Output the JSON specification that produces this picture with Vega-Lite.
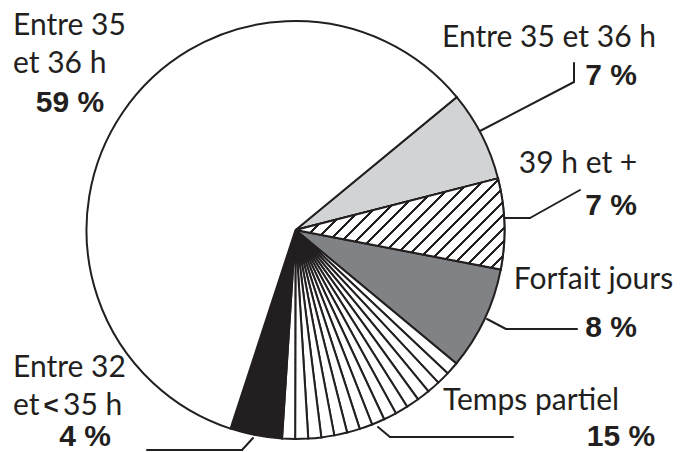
{
  "$schema": "https://vega.github.io/schema/vega-lite/v6.json",
  "width": 687,
  "height": 452,
  "autosize": "none",
  "padding": 0,
  "background": "#ffffff",
  "config": {
    "view": {"stroke": null},
    "text": {"font": "Lato", "fontSize": 30, "fill": "#231f20", "baseline": "alphabetic", "align": "center"},
    "rule": {"stroke": "#231f20", "strokeWidth": 2, "strokeCap": "round"},
    "arc": {"stroke": "#231f20", "strokeWidth": 2, "radius": 209}
  },
  "data": {"values": [
    {"ord": 1, "key": "a7", "name": "Entre 35 et 36 h", "pct": "7 %", "v": 7, "part": 1},
    {"ord": 2, "key": "h39", "name": "39 h et +", "pct": "7 %", "v": 7, "part": 1},
    {"ord": 3, "key": "fj", "name": "Forfait jours", "pct": "8 %", "v": 8, "part": 1},
    {"ord": 4, "key": "tp", "name": "Temps partiel", "pct": "15 %", "v": 1, "part": 1},
    {"ord": 5, "key": "tp", "name": "Temps partiel", "pct": "15 %", "v": 1, "part": 2},
    {"ord": 6, "key": "tp", "name": "Temps partiel", "pct": "15 %", "v": 1, "part": 3},
    {"ord": 7, "key": "tp", "name": "Temps partiel", "pct": "15 %", "v": 1, "part": 4},
    {"ord": 8, "key": "tp", "name": "Temps partiel", "pct": "15 %", "v": 1, "part": 5},
    {"ord": 9, "key": "tp", "name": "Temps partiel", "pct": "15 %", "v": 1, "part": 6},
    {"ord": 10, "key": "tp", "name": "Temps partiel", "pct": "15 %", "v": 1, "part": 7},
    {"ord": 11, "key": "tp", "name": "Temps partiel", "pct": "15 %", "v": 1, "part": 8},
    {"ord": 12, "key": "tp", "name": "Temps partiel", "pct": "15 %", "v": 1, "part": 9},
    {"ord": 13, "key": "tp", "name": "Temps partiel", "pct": "15 %", "v": 1, "part": 10},
    {"ord": 14, "key": "tp", "name": "Temps partiel", "pct": "15 %", "v": 1, "part": 11},
    {"ord": 15, "key": "tp", "name": "Temps partiel", "pct": "15 %", "v": 1, "part": 12},
    {"ord": 16, "key": "tp", "name": "Temps partiel", "pct": "15 %", "v": 1, "part": 13},
    {"ord": 17, "key": "tp", "name": "Temps partiel", "pct": "15 %", "v": 1, "part": 14},
    {"ord": 18, "key": "tp", "name": "Temps partiel", "pct": "15 %", "v": 1, "part": 15},
    {"ord": 19, "key": "e32", "name": "Entre 32|et < 35 h", "pct": "4 %", "v": 4, "part": 1},
    {"ord": 20, "key": "a59", "name": "Entre 35|et 36 h", "pct": "59 %", "v": 59, "part": 1}
  ]},
  "transform": [
    {"stack": "v", "groupby": [], "sort": [{"field": "ord", "order": "ascending"}], "as": ["v0", "v1"]}
  ],
  "layer": [
    {
      "mark": {"type": "arc"},
      "encoding": {
        "x": {"value": 295.5},
        "y": {"value": 230},
        "theta": {"field": "v0", "type": "quantitative", "stack": null, "scale": {"domain": [0, 100], "range": [0.8814, 7.1646]}},
        "theta2": {"field": "v1"},
        "fill": {"field": "key", "type": "nominal", "legend": null,
          "scale": {"domain": ["a7", "h39", "fj", "tp", "e32", "a59"], "range": ["#d1d3d4", "#ffffff", "#808285", "#ffffff", "#231f20", "#ffffff"]}}
      }
    },
    {
      "transform": [{"filter": "datum.key == 'h39'"}],
      "mark": {"type": "arc", "fill": {"gradient": "linear", "x1": 0, "y1": 0, "x2": 1.206, "y2": 0.526, "stops": [
        {"offset": 0, "color": "#231f20"}, {"offset": 0.0095, "color": "#231f20"}, {"offset": 0.0095, "color": "#ffffff"}, {"offset": 0.045, "color": "#ffffff"},
        {"offset": 0.045, "color": "#231f20"}, {"offset": 0.0545, "color": "#231f20"}, {"offset": 0.0545, "color": "#ffffff"}, {"offset": 0.09, "color": "#ffffff"},
        {"offset": 0.09, "color": "#231f20"}, {"offset": 0.0995, "color": "#231f20"}, {"offset": 0.0995, "color": "#ffffff"}, {"offset": 0.135, "color": "#ffffff"},
        {"offset": 0.135, "color": "#231f20"}, {"offset": 0.1445, "color": "#231f20"}, {"offset": 0.1445, "color": "#ffffff"}, {"offset": 0.18, "color": "#ffffff"},
        {"offset": 0.18, "color": "#231f20"}, {"offset": 0.1895, "color": "#231f20"}, {"offset": 0.1895, "color": "#ffffff"}, {"offset": 0.225, "color": "#ffffff"},
        {"offset": 0.225, "color": "#231f20"}, {"offset": 0.2345, "color": "#231f20"}, {"offset": 0.2345, "color": "#ffffff"}, {"offset": 0.27, "color": "#ffffff"},
        {"offset": 0.27, "color": "#231f20"}, {"offset": 0.2795, "color": "#231f20"}, {"offset": 0.2795, "color": "#ffffff"}, {"offset": 0.315, "color": "#ffffff"},
        {"offset": 0.315, "color": "#231f20"}, {"offset": 0.3245, "color": "#231f20"}, {"offset": 0.3245, "color": "#ffffff"}, {"offset": 0.36, "color": "#ffffff"},
        {"offset": 0.36, "color": "#231f20"}, {"offset": 0.3695, "color": "#231f20"}, {"offset": 0.3695, "color": "#ffffff"}, {"offset": 0.405, "color": "#ffffff"},
        {"offset": 0.405, "color": "#231f20"}, {"offset": 0.4145, "color": "#231f20"}, {"offset": 0.4145, "color": "#ffffff"}, {"offset": 0.45, "color": "#ffffff"},
        {"offset": 0.45, "color": "#231f20"}, {"offset": 0.4595, "color": "#231f20"}, {"offset": 0.4595, "color": "#ffffff"}, {"offset": 0.495, "color": "#ffffff"},
        {"offset": 0.495, "color": "#231f20"}, {"offset": 0.5045, "color": "#231f20"}, {"offset": 0.5045, "color": "#ffffff"}, {"offset": 0.54, "color": "#ffffff"},
        {"offset": 0.54, "color": "#231f20"}, {"offset": 0.5495, "color": "#231f20"}, {"offset": 0.5495, "color": "#ffffff"}, {"offset": 0.585, "color": "#ffffff"},
        {"offset": 0.585, "color": "#231f20"}, {"offset": 0.5945, "color": "#231f20"}, {"offset": 0.5945, "color": "#ffffff"}, {"offset": 0.63, "color": "#ffffff"},
        {"offset": 0.63, "color": "#231f20"}, {"offset": 0.6395, "color": "#231f20"}, {"offset": 0.6395, "color": "#ffffff"}, {"offset": 0.675, "color": "#ffffff"},
        {"offset": 0.675, "color": "#231f20"}, {"offset": 0.6845, "color": "#231f20"}, {"offset": 0.6845, "color": "#ffffff"}, {"offset": 0.72, "color": "#ffffff"},
        {"offset": 0.72, "color": "#231f20"}, {"offset": 0.7295, "color": "#231f20"}, {"offset": 0.7295, "color": "#ffffff"}, {"offset": 0.765, "color": "#ffffff"},
        {"offset": 0.765, "color": "#231f20"}, {"offset": 0.7745, "color": "#231f20"}, {"offset": 0.7745, "color": "#ffffff"}, {"offset": 0.81, "color": "#ffffff"},
        {"offset": 0.81, "color": "#231f20"}, {"offset": 0.8195, "color": "#231f20"}, {"offset": 0.8195, "color": "#ffffff"}, {"offset": 0.855, "color": "#ffffff"},
        {"offset": 0.855, "color": "#231f20"}, {"offset": 0.8645, "color": "#231f20"}, {"offset": 0.8645, "color": "#ffffff"}, {"offset": 0.9, "color": "#ffffff"},
        {"offset": 0.9, "color": "#231f20"}, {"offset": 0.9095, "color": "#231f20"}, {"offset": 0.9095, "color": "#ffffff"}, {"offset": 0.945, "color": "#ffffff"},
        {"offset": 0.945, "color": "#231f20"}, {"offset": 0.9545, "color": "#231f20"}, {"offset": 0.9545, "color": "#ffffff"}, {"offset": 0.99, "color": "#ffffff"},
        {"offset": 0.99, "color": "#231f20"}, {"offset": 0.9995, "color": "#231f20"}, {"offset": 0.9995, "color": "#ffffff"}, {"offset": 1, "color": "#ffffff"}
      ]}},
      "encoding": {
        "x": {"value": 295.5},
        "y": {"value": 230},
        "theta": {"field": "v0", "type": "quantitative", "stack": null},
        "theta2": {"field": "v1"}
      }
    },
    {"transform": [{"filter": "datum.key == 'a7'"}], "mark": {"type": "text"},
     "encoding": {"x": {"value": 549}, "y": {"value": 47}, "text": {"field": "name"}}},
    {"transform": [{"filter": "datum.key == 'a7'"}], "mark": {"type": "text", "font": "Liberation Sans", "fontWeight": "bold", "fontSize": 30},
     "encoding": {"x": {"value": 611}, "y": {"value": 85}, "text": {"field": "pct"}}},
    {"transform": [{"filter": "datum.key == 'h39'"}], "mark": {"type": "text"},
     "encoding": {"x": {"value": 578}, "y": {"value": 173}, "text": {"field": "name"}}},
    {"transform": [{"filter": "datum.key == 'h39'"}], "mark": {"type": "text", "font": "Liberation Sans", "fontWeight": "bold", "fontSize": 30},
     "encoding": {"x": {"value": 611}, "y": {"value": 215}, "text": {"field": "pct"}}},
    {"transform": [{"filter": "datum.key == 'fj'"}], "mark": {"type": "text"},
     "encoding": {"x": {"value": 593.5}, "y": {"value": 289}, "text": {"field": "name"}}},
    {"transform": [{"filter": "datum.key == 'fj'"}], "mark": {"type": "text", "font": "Liberation Sans", "fontWeight": "bold", "fontSize": 30},
     "encoding": {"x": {"value": 611}, "y": {"value": 337}, "text": {"field": "pct"}}},
    {"transform": [{"filter": "datum.key == 'tp' && datum.part == 1"}], "mark": {"type": "text"},
     "encoding": {"x": {"value": 531}, "y": {"value": 410}, "text": {"field": "name"}}},
    {"transform": [{"filter": "datum.key == 'tp' && datum.part == 1"}], "mark": {"type": "text", "font": "Liberation Sans", "fontWeight": "bold", "fontSize": 30},
     "encoding": {"x": {"value": 621}, "y": {"value": 446}, "text": {"field": "pct"}}},
    {"transform": [{"filter": "datum.key == 'e32'"}], "mark": {"type": "text", "align": "left", "text": "Entre 32"},
     "encoding": {"x": {"value": 13}, "y": {"value": 377}}},
    {"transform": [{"filter": "datum.key == 'e32'"}], "mark": {"type": "text", "align": "left", "text": "et"},
     "encoding": {"x": {"value": 13}, "y": {"value": 415}}},
    {"transform": [{"filter": "datum.key == 'e32'"}], "mark": {"type": "text", "font": "Liberation Sans", "fontWeight": "bold", "fontSize": 26, "text": "<"},
     "encoding": {"x": {"value": 51}, "y": {"value": 414}}},
    {"transform": [{"filter": "datum.key == 'e32'"}], "mark": {"type": "text", "align": "left", "text": "35 h"},
     "encoding": {"x": {"value": 63}, "y": {"value": 415}}},
    {"transform": [{"filter": "datum.key == 'e32'"}], "mark": {"type": "text", "font": "Liberation Sans", "fontWeight": "bold", "fontSize": 30},
     "encoding": {"x": {"value": 85}, "y": {"value": 446}, "text": {"field": "pct"}}},
    {"transform": [{"filter": "datum.key == 'a59'"}], "mark": {"type": "text", "align": "left", "lineBreak": "|", "lineHeight": 38},
     "encoding": {"x": {"value": 13}, "y": {"value": 35}, "text": {"field": "name"}}},
    {"transform": [{"filter": "datum.key == 'a59'"}], "mark": {"type": "text", "font": "Liberation Sans", "fontWeight": "bold", "fontSize": 30},
     "encoding": {"x": {"value": 70}, "y": {"value": 112}, "text": {"field": "pct"}}},
    {"transform": [{"filter": "datum.key == 'a7'"}], "mark": {"type": "rule"},
     "encoding": {"x": {"value": 480}, "y": {"value": 131}, "x2": {"value": 574}, "y2": {"value": 82}}},
    {"transform": [{"filter": "datum.key == 'a7'"}], "mark": {"type": "rule"},
     "encoding": {"x": {"value": 574}, "y": {"value": 82}, "x2": {"value": 574}, "y2": {"value": 63}}},
    {"transform": [{"filter": "datum.key == 'h39'"}], "mark": {"type": "rule"},
     "encoding": {"x": {"value": 504}, "y": {"value": 218}, "x2": {"value": 530}, "y2": {"value": 218}}},
    {"transform": [{"filter": "datum.key == 'h39'"}], "mark": {"type": "rule"},
     "encoding": {"x": {"value": 530}, "y": {"value": 218}, "x2": {"value": 580}, "y2": {"value": 190}}},
    {"transform": [{"filter": "datum.key == 'fj'"}], "mark": {"type": "rule"},
     "encoding": {"x": {"value": 487}, "y": {"value": 319}, "x2": {"value": 506}, "y2": {"value": 329}}},
    {"transform": [{"filter": "datum.key == 'fj'"}], "mark": {"type": "rule"},
     "encoding": {"x": {"value": 506}, "y": {"value": 329}, "x2": {"value": 577}, "y2": {"value": 329}}},
    {"transform": [{"filter": "datum.key == 'tp' && datum.part == 1"}], "mark": {"type": "rule"},
     "encoding": {"x": {"value": 378}, "y": {"value": 427}, "x2": {"value": 390}, "y2": {"value": 437}}},
    {"transform": [{"filter": "datum.key == 'tp' && datum.part == 1"}], "mark": {"type": "rule"},
     "encoding": {"x": {"value": 390}, "y": {"value": 437}, "x2": {"value": 513}, "y2": {"value": 437}}},
    {"transform": [{"filter": "datum.key == 'e32'"}], "mark": {"type": "rule"},
     "encoding": {"x": {"value": 253}, "y": {"value": 438}, "x2": {"value": 242}, "y2": {"value": 450}}},
    {"transform": [{"filter": "datum.key == 'e32'"}], "mark": {"type": "rule"},
     "encoding": {"x": {"value": 242}, "y": {"value": 450}, "x2": {"value": 147}, "y2": {"value": 450}}}
  ]
}
